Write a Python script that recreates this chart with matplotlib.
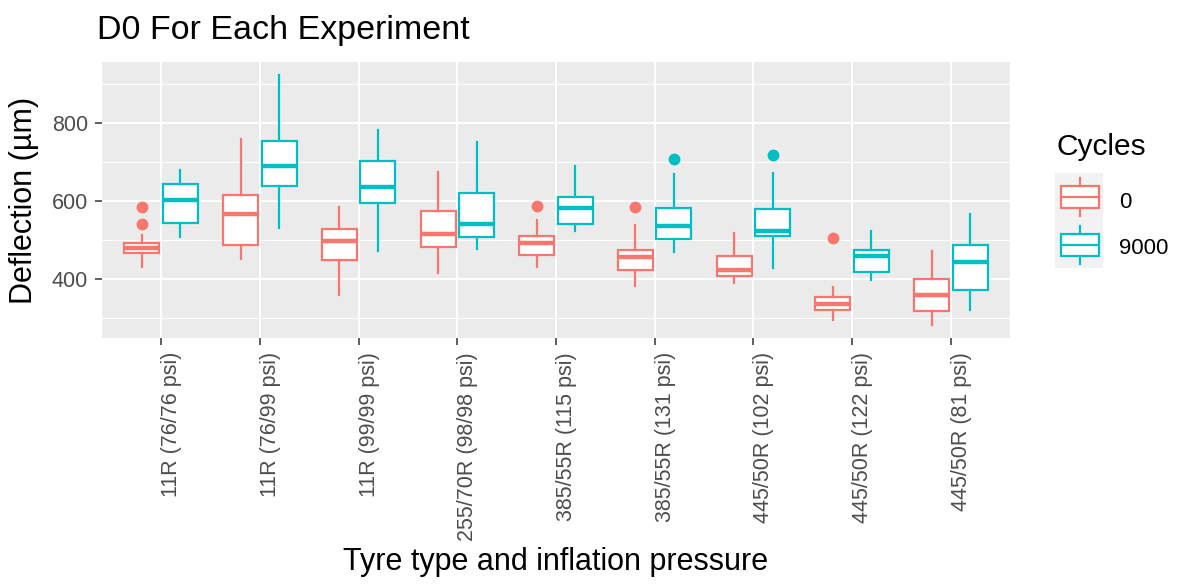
import matplotlib
matplotlib.use("Agg")
from matplotlib import pyplot as plt
from matplotlib.patches import Rectangle
import numpy as np

plt.rcParams["font.family"] = ["Liberation Sans", "DejaVu Sans"]

tyres = ["11R (76/76 psi)", "11R (76/99 psi)", "11R (99/99 psi)",
         "255/70R (98/98 psi)", "385/55R (115 psi)", "385/55R (131 psi)",
         "445/50R (102 psi)", "445/50R (122 psi)", "445/50R (81 psi)"]
cycles = ["0", "9000"]
colors = ["#F8766D", "#00BFC4"]

# box summaries, 0 cycles
lo_0 = [432, 451, 360, 415, 432, 381, 391, 294, 283]
q1_0 = [468, 488, 448, 483, 462, 424, 408, 322, 319]
med_0 = [479, 567, 498, 516, 492, 456, 422, 336, 360]
q3_0 = [493, 615, 528, 575, 511, 475, 460, 353, 401]
hi_0 = [513, 760, 584, 675, 551, 539, 519, 379, 473]
out_0 = [[585, 541], [], [], [], [588], [584], [], [506], []]

# box summaries, 9000 cycles
lo_9 = [507, 530, 471, 477, 523, 469, 428, 398, 322]
q1_9 = [543, 638, 596, 507, 540, 503, 511, 417, 373]
med_9 = [603, 689, 637, 541, 583, 536, 524, 459, 443]
q3_9 = [643, 753, 702, 621, 611, 583, 580, 475, 488]
hi_9 = [679, 922, 781, 750, 689, 668, 672, 522, 567]
out_9 = [[], [], [], [], [], [708], [718], [], []]


def make_stats(lo, q1, med, q3, hi, out):
    stats = []
    for i in range(len(lo)):
        stats.append(dict(whislo=lo[i], q1=q1[i], med=med[i], q3=q3[i],
                          whishi=hi[i], fliers=out[i]))
    return stats


groups = [make_stats(lo_0, q1_0, med_0, q3_0, hi_0, out_0),
          make_stats(lo_9, q1_9, med_9, q3_9, hi_9, out_9)]

fig = plt.figure(figsize=(11.81, 5.88), dpi=100)
ax = fig.add_axes([102 / 1181, 1 - 338 / 588, 908 / 1181, 276 / 588])
ax.set_facecolor("#EBEBEB")

x = np.arange(1, len(tyres) + 1)
for k, stats in enumerate(groups):
    c = colors[k]
    ax.bxp(stats, positions=x + (k - 0.5) * 0.39, widths=0.355,
           patch_artist=True, manage_ticks=False,
           boxprops=dict(facecolor="white", edgecolor=c, linewidth=1.6),
           whiskerprops=dict(color=c, linewidth=1.6),
           capprops=dict(linewidth=0),
           medianprops=dict(color=c, linewidth=3.2, solid_capstyle="butt"),
           flierprops=dict(marker="o", markerfacecolor=c, markeredgecolor=c,
                           markersize=7.5, linestyle="none"),
           zorder=3)

ax.set_xlim(0.4, 9.6)
ax.set_ylim(249, 956)
ax.set_yticks([400, 600, 800])
ax.set_yticks([300, 500, 700, 900], minor=True)
ax.set_xticks(x)
ax.set_xticklabels(tyres, rotation=90, ha="left", va="top")
ax.grid(True, which="major", color="white", linewidth=1.4, zorder=0)
ax.grid(True, which="minor", axis="y", color="white", linewidth=0.7, zorder=0)
ax.set_axisbelow(True)
for s in ax.spines.values():
    s.set_visible(False)
ax.tick_params(axis="both", which="major", length=5, width=1.1, color="#333333",
               labelsize=15.5, labelcolor="#4D4D4D", pad=5)
ax.tick_params(axis="y", which="minor", length=0)

ax.set_xlabel("Tyre type and inflation pressure", fontsize=22)
ax.xaxis.set_label_coords(0.5, (338 - 562) / 276)
ax.xaxis.label.set_va("center")
ax.set_ylabel("Deflection (µm)", fontsize=22)
ax.yaxis.set_label_coords((24 - 102) / 908, 0.5)
ax.yaxis.label.set_va("center")

fig.text(97 / 1181, 1 - 39 / 588, "D0 For Each Experiment", fontsize=24.5,
         ha="left", va="baseline")

# legend drawn by hand, ggplot style
fig.text(1057 / 1181, 1 - 147 / 588, "Cycles", fontsize=21.5,
         ha="left", va="center")
lg = fig.add_axes([1055 / 1181, 1 - 268 / 588, 48 / 1181, 95 / 588])
lg.set_facecolor("#F2F2F2")
lg.set_xlim(0, 48)
lg.set_ylim(95, 0)
lg.set_xticks([])
lg.set_yticks([])
for s in lg.spines.values():
    s.set_visible(False)
for k, c in enumerate(colors):
    y0 = k * 47.5
    lg.add_patch(Rectangle((6, y0 + 13), 38, 22, facecolor="white",
                           edgecolor=c, linewidth=1.6))
    lg.plot([6, 44], [y0 + 24, y0 + 24], color=c, linewidth=1.6)
    lg.plot([25, 25], [y0 + 5, y0 + 13], color=c, linewidth=1.6)
    lg.plot([25, 25], [y0 + 35, y0 + 43], color=c, linewidth=1.6)
    fig.text(1119 / 1181, 1 - (202 + k * 46.5) / 588, cycles[k],
             fontsize=16, ha="left", va="center")

fig.savefig("out.png", dpi=100)
